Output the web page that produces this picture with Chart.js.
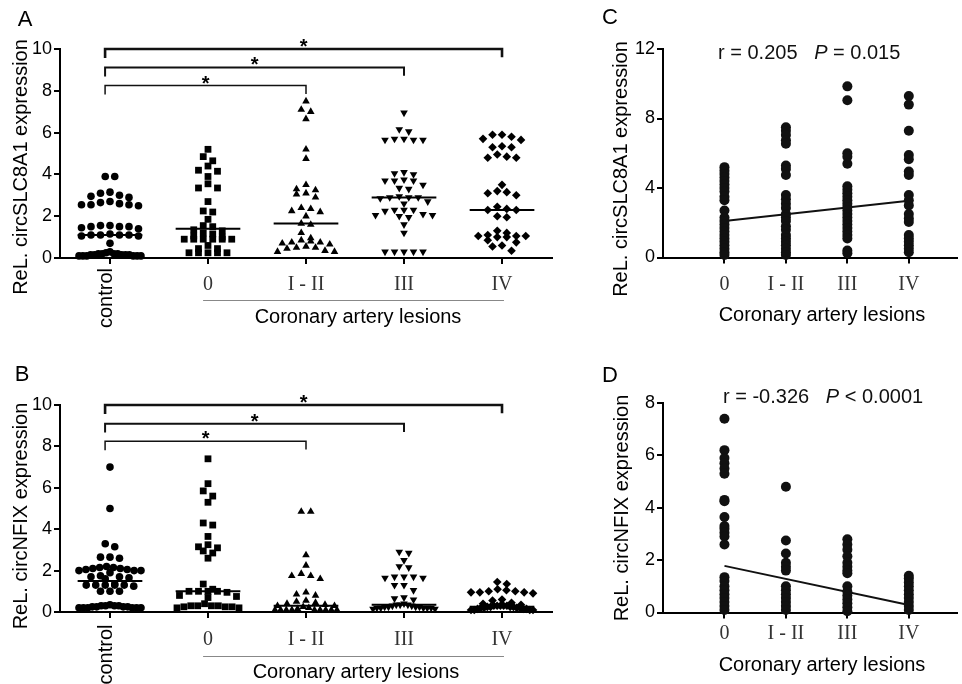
<!DOCTYPE html>
<html>
<head>
<meta charset="utf-8">
<script src="https://cdn.jsdelivr.net/npm/chart.js@4.4.1/dist/chart.umd.min.js"></script>
<style>
  body { margin: 0; background: #fff; }
  #wrap { position: relative; width: 962px; height: 684px; background: #fff; }
  canvas { position: absolute; }
</style>
</head>
<body>
<div id="wrap">
  <canvas id="chartA" width="560" height="340" style="left:0px;top:0px"></canvas>
  <canvas id="chartB" width="560" height="344" style="left:0px;top:340px"></canvas>
  <canvas id="chartC" width="402" height="340" style="left:560px;top:0px"></canvas>
  <canvas id="chartD" width="402" height="344" style="left:560px;top:340px"></canvas>
</div>
<script>
// categories
var groupNames = ['control', '0', 'I - II', 'III', 'IV']
var lesionNames = ['0', 'I - II', 'III', 'IV']

// panel A - circSLC8A1 by group
var aControl = [3.9, 3.9,
  3.15, 3.1, 3.0, 2.95, 2.9,
  2.7, 2.65, 2.6, 2.55, 2.55, 2.55, 2.5,
  1.55, 1.55, 1.5, 1.5, 1.5, 1.45, 1.4,
  1.15, 1.1, 1.1, 1.1, 1.1, 1.05, 1.05,
  0.7,
  0.3, 0.25, 0.2, 0.2, 0.2, 0.2, 0.15, 0.15, 0.15, 0.15, 0.15, 0.1, 0.1, 0.1, 0.1, 0.1, 0.1]
var aStage0 = [5.2, 4.85, 4.65, 4.4, 4.2, 4.15, 3.9, 3.55, 3.35, 3.35, 2.7, 2.25, 2.2, 1.85,
  1.55, 1.5, 1.35, 1.3, 1.2, 1.15, 1.05, 1.0, 0.9, 0.9, 0.9, 0.9, 0.9, 0.9,
  0.6, 0.45, 0.45, 0.25, 0.25, 0.25, 0.25, 0.25]
var aStage12 = [7.5, 7.1, 7.0, 6.65, 5.2, 4.75, 3.5, 3.3, 3.25, 3.1, 3.05, 2.9, 2.4, 2.35, 2.25, 2.2,
  2.0, 1.65, 1.6, 1.2, 0.95, 0.85, 0.8, 0.75, 0.75, 0.7, 0.65, 0.55, 0.5, 0.5, 0.45, 0.35, 0.3, 0.3]
var aStage3 = [6.95, 6.15, 6.05, 5.7, 5.7, 5.65, 5.65, 5.65, 4.1, 4.05, 4.0, 3.75, 3.7, 3.7, 3.7,
  3.5, 3.35, 3.3, 2.95, 2.9, 2.9, 2.9, 2.85, 2.7, 2.6, 2.3, 2.3, 2.3, 2.25, 2.1, 2.05, 2.05, 2.0,
  1.95, 1.6, 1.2, 0.3, 0.3, 0.3, 0.3, 0.3]
var aStage4 = [5.9, 5.9, 5.8, 5.7, 5.65, 5.35, 5.3, 5.3, 4.95, 4.85, 4.8, 4.8, 3.5, 3.2, 3.15, 3.1,
  3.0, 2.45, 2.35, 2.3, 2.3, 2.0, 1.95, 1.3, 1.2, 1.1, 1.05, 1.05, 1.05, 1.0, 1.0, 0.85, 0.75,
  0.6, 0.55, 0.35]
var aMedians = [1.1, 1.4, 1.65, 2.9, 2.3]

// panel B - circNFIX by group
var bControl = [7.0, 5.0, 3.3, 3.15, 2.65, 2.65, 2.6, 2.2, 2.15, 2.1, 2.1, 2.05, 2.05, 2.0, 2.0,
  2.0, 2.15, 1.9, 1.75, 1.7, 1.7, 1.65, 1.6, 1.35, 1.3, 1.3, 1.3, 1.3, 1.25, 1.3, 1.0, 1.0, 1.0,
  0.35, 0.3, 0.3, 0.3, 0.3, 0.25, 0.25, 0.25, 0.25, 0.2, 0.2, 0.2, 0.2, 0.2, 0.2]
var bStage0 = [7.4, 6.2, 5.85, 5.6, 5.3, 4.3, 4.2, 3.65, 3.25, 3.15, 3.1, 2.95, 2.85, 2.6, 1.35,
  1.1, 1.0, 1.0, 1.0, 1.0, 0.95, 0.8, 0.75, 0.7, 0.4, 0.3, 0.3, 0.3, 0.3, 0.25, 0.25, 0.25, 0.2, 0.2]
var bStage12 = [4.85, 4.85, 2.75, 2.25, 1.85, 1.75, 1.75, 1.6, 0.95, 0.85, 0.8, 0.55, 0.5, 0.45,
  0.4, 0.35, 0.3, 0.3, 0.25, 0.2, 0.15, 0.1, 0.1, 0.1, 0.1, 0.1, 0.1, 0.1, 0.1, 0.1]
var bStage3 = [2.9, 2.85, 2.5, 2.2, 2.15, 1.7, 1.7, 1.65, 1.65, 1.7, 1.3, 1.3, 1.05, 0.7, 0.65,
  0.6, 0.4, 0.35, 0.35, 0.35, 0.3, 0.3, 0.25, 0.25, 0.25, 0.25, 0.2, 0.2, 0.2, 0.2, 0.2, 0.15, 0.15]
var bStage4 = [1.45, 1.35, 1.1, 1.05, 1.0, 1.0, 0.95, 0.95, 0.95, 0.9, 0.6, 0.55, 0.45, 0.4, 0.35,
  0.3, 0.3, 0.3, 0.3, 0.3, 0.25, 0.25, 0.25, 0.25, 0.2, 0.2, 0.2, 0.2, 0.15, 0.15, 0.15, 0.1, 0.1,
  0.1, 0.1]
var bMedians = [1.5, 1.0, 0.3, 0.35, 0.25]

// significance brackets: control vs group index, at these heights
var sigTo = [2, 3, 4]
var sigLevelsA = [8.25, 9.12, 10]
var sigLevelsB = [8.25, 9.1, 10]

// panel C - circSLC8A1 vs lesion stage
var cStage0 = [5.2, 5.0, 4.8, 4.6, 4.4, 4.2, 4.0, 3.8, 3.5, 3.3, 2.7, 2.3, 2.1, 1.9, 1.7, 1.5, 1.3,
  1.1, 0.9, 0.7, 0.5, 0.3, 0.15]
var cStage12 = [7.5, 7.3, 7.05, 6.75, 6.55, 5.3, 5.1, 4.75, 3.6, 3.35, 3.1, 2.85, 2.5, 2.3, 2.1,
  1.8, 1.6, 1.3, 1.1, 0.9, 0.7, 0.5, 0.3, 0.15]
var cStage3 = [9.85, 9.05, 6.0, 5.8, 5.4, 4.1, 3.9, 3.7, 3.5, 3.3, 3.1, 2.9, 2.7, 2.5, 2.3, 2.1,
  1.9, 1.7, 1.5, 1.3, 1.1, 0.4, 0.25]
var cStage4 = [9.3, 8.8, 7.3, 5.9, 5.65, 4.95, 4.75, 3.6, 3.3, 3.0, 2.5, 2.25, 2.05, 1.3, 1.1, 0.9,
  0.7, 0.5, 0.3]
var regC = [2.1, 3.27]

// panel D - circNFIX vs lesion stage
var dStage0 = [7.4, 6.2, 5.9, 5.7, 5.5, 5.3, 4.3, 4.25, 3.65, 3.3, 3.2, 3.05, 2.9, 2.6, 1.35, 1.2,
  1.0, 0.85, 0.7, 0.55, 0.4, 0.25, 0.1]
var dStage12 = [4.8, 2.75, 2.25, 1.9, 1.75, 1.6, 1.0, 0.85, 0.7, 0.55, 0.4, 0.25, 0.1]
var dStage3 = [2.8, 2.6, 2.4, 2.15, 1.9, 1.75, 1.6, 1.5, 1.0, 0.8, 0.65, 0.5, 0.35, 0.2, 0.05]
var dStage4 = [1.4, 1.3, 1.15, 1.0, 0.85, 0.7, 0.55, 0.4, 0.25, 0.1]
var regD = [1.78, 0.29]

var yTicksA = [0, 2, 4, 6, 8, 10]
var yTicksC = [0, 4, 8, 12]
var yTicksD = [0, 2, 4, 6, 8]

var SANS = '"Liberation Sans", Arial, sans-serif'
var SERIF = '"Liberation Serif", "Times New Roman", serif'
Chart.defaults.font.family = SANS
Chart.defaults.color = '#000'

var shapes = ['circle', 'rect', 'triangle', 'triangle', 'rectRot']
var rotations = [0, 0, 0, 180, 0]
var radii = [3.8, 4.8, 4.4, 4.4, 4.3]

// spread points of similar value into centred rows (prism style)
function swarm(values, pos, pxX, pxY) {
  var v = values.slice().sort(function (a, b) { return b - a })
  var out = []
  var i = 0
  while (i < v.length) {
    var j = i + 1
    while (j < v.length && (v[i] - v[j]) * pxY < 6) j++
    var row = v.slice(i, j)
    var n = row.length
    var gap = n > 1 ? Math.min(9.5, 62 / (n - 1)) : 0
    var slots = []
    for (var k = 0; k < n; k++) slots.push(k - (n - 1) / 2)
    slots.sort(function (a, b) { return Math.abs(a) - Math.abs(b) || a - b })
    row.forEach(function (y, k) {
      out.push({ x: pos + slots[k] * gap / pxX, y: y })
    })
    i = j
  }
  return out
}

var decor = {
  id: 'decor',
  afterDraw: function (chart) {
    var o = chart.options.plugins.decor
    var ctx = chart.ctx
    var xs = chart.scales.x
    var ys = chart.scales.y
    var bottom = chart.chartArea.bottom
    ctx.save()
    ctx.fillStyle = '#000'
    ctx.textAlign = 'center'
    ctx.textBaseline = 'middle'

    ctx.font = '22px ' + SANS
    ctx.fillText(o.letter, o.letterAt[0], o.letterAt[1])

    ctx.font = '20px ' + SANS
    ctx.save()
    ctx.translate(o.yTitleAt[0], o.yTitleAt[1])
    ctx.rotate(-Math.PI / 2)
    ctx.fillText(o.yTitle, 0, 0)
    ctx.restore()
    ctx.fillText('Coronary artery lesions', o.xTitleAt[0], o.xTitleAt[1])

    o.cats.forEach(function (c, i) {
      var px = xs.getPixelForValue(i)
      if (c === 'control') {
        ctx.save()
        ctx.font = '20px ' + SANS
        ctx.fillStyle = '#000'
        ctx.translate(px - 3, bottom + o.controlDy)
        ctx.rotate(-Math.PI / 2)
        ctx.fillText(c, 0, 0)
        ctx.restore()
      } else {
        ctx.font = '20px ' + SERIF
        ctx.fillStyle = '#333'
        ctx.fillText(c, px, bottom + o.catDy)
      }
    })

    if (o.underlineDy) {
      ctx.strokeStyle = '#888'
      ctx.lineWidth = 1
      ctx.beginPath()
      ctx.moveTo(xs.getPixelForValue(0.95), bottom + o.underlineDy)
      ctx.lineTo(xs.getPixelForValue(4.02), bottom + o.underlineDy)
      ctx.stroke()
    }

    if (o.sigLevels) {
      ctx.fillStyle = '#000'
      ctx.font = 'bold 20px ' + SANS
      ctx.textBaseline = 'alphabetic'
      o.sigLevels.forEach(function (lvl, k) {
        var mid = (xs.getPixelForValue(-0.05) + xs.getPixelForValue(sigTo[k])) / 2
        ctx.fillText('*', mid, ys.getPixelForValue(lvl) + 4)
      })
    }

    if (o.corr) {
      ctx.fillStyle = '#111'
      ctx.textAlign = 'left'
      ctx.textBaseline = 'middle'
      var x = o.corr.at[0]
      var parts = [[o.corr.r + '   ', ''], ['P', 'italic '], [o.corr.p, '']]
      parts.forEach(function (p) {
        ctx.font = p[1] + '20px ' + SANS
        ctx.fillText(p[0], x, o.corr.at[1])
        x += ctx.measureText(p[0]).width
      })
    }
    ctx.restore()
  }
}

function axisY(max, ticks, width) {
  return {
    min: 0, max: max,
    afterBuildTicks: function (s) { s.ticks = ticks.map(function (v) { return { value: v } }) },
    afterFit: function (s) { s.width = width },
    ticks: { font: { size: 18 }, color: '#000', padding: 2 },
    grid: { drawOnChartArea: false, drawTicks: true, tickLength: 6, color: '#000', lineWidth: 2 },
    border: { color: '#000', width: 2 }
  }
}

function axisX(min, max, count) {
  return {
    type: 'linear', min: min, max: max,
    afterBuildTicks: function (s) {
      var t = []
      for (var i = 0; i < count; i++) t.push({ value: i })
      s.ticks = t
    },
    afterFit: function (s) { s.height = 30 },
    ticks: { display: false },
    grid: { drawOnChartArea: false, drawTicks: true, tickLength: 6, color: '#000', lineWidth: 2 },
    border: { color: '#000', width: 2 }
  }
}

function makeDotChart(id, groups, medians, sigLevels, pad, decorOpts) {
  var canvas = document.getElementById(id)
  var xmin = -0.51, xmax = 4.51
  var pxX = (canvas.width - pad.left - 40 - pad.right) / (xmax - xmin)
  var pxY = (canvas.height - pad.top - pad.bottom - 30) / 10
  var datasets = []
  groups.forEach(function (vals, i) {
    datasets.push({
      type: 'scatter',
      data: swarm(vals, i, pxX, pxY),
      pointStyle: shapes[i], pointRotation: rotations[i], pointRadius: radii[i],
      backgroundColor: '#000', borderWidth: 0, clip: false
    })
  })
  medians.forEach(function (m, i) {
    datasets.push({
      type: 'line', showLine: true,
      data: [{ x: i - 0.33, y: m }, { x: i + 0.33, y: m }],
      borderColor: '#000', borderWidth: 2, pointRadius: 0, clip: false
    })
  })
  var widths = [1.5, 2, 2.6]
  sigLevels.forEach(function (lvl, k) {
    datasets.push({
      type: 'line', showLine: true,
      data: [{ x: -0.05, y: lvl - 0.43 }, { x: -0.05, y: lvl }, { x: sigTo[k], y: lvl }, { x: sigTo[k], y: lvl - 0.4 }],
      borderColor: '#111', borderWidth: widths[k], pointRadius: 0, clip: false,
      borderJoinStyle: 'miter', tension: 0
    })
  })
  decorOpts.sigLevels = sigLevels
  return new Chart(canvas, {
    type: 'scatter',
    data: { datasets: datasets },
    options: {
      responsive: false, animation: false, events: [], devicePixelRatio: 1,
      layout: { padding: pad },
      scales: { x: axisX(xmin, xmax, 5), y: axisY(10, yTicksA, 40) },
      plugins: { legend: { display: false }, tooltip: { enabled: false }, decor: decorOpts }
    },
    plugins: [decor]
  })
}

function makeCorrChart(id, groups, reg, ymax, yTicks, pad, decorOpts) {
  var datasets = groups.map(function (vals, i) {
    return {
      type: 'scatter',
      data: vals.map(function (v) { return { x: i, y: v } }),
      pointStyle: 'circle', pointRadius: 5,
      backgroundColor: '#111', borderWidth: 0, clip: false
    }
  })
  datasets.push({
    type: 'line', showLine: true,
    data: [{ x: 0, y: reg[0] }, { x: 3, y: reg[1] }],
    borderColor: '#111', borderWidth: 2, pointRadius: 0, clip: false
  })
  return new Chart(document.getElementById(id), {
    type: 'scatter',
    data: { datasets: datasets },
    options: {
      responsive: false, animation: false, events: [], devicePixelRatio: 1,
      layout: { padding: pad },
      scales: { x: axisX(-1, 3.784, 4), y: axisY(ymax, yTicks, 40) },
      plugins: { legend: { display: false }, tooltip: { enabled: false }, decor: decorOpts }
    },
    plugins: [decor]
  })
}

makeDotChart('chartA', [aControl, aStage0, aStage12, aStage3, aStage4], aMedians, sigLevelsA,
  { left: 20, top: 49, right: 8, bottom: 52 },
  { letter: 'A', letterAt: [25, 20], yTitle: 'ReL. circSLC8A1 expression', yTitleAt: [21, 167],
    xTitleAt: [358, 317], cats: groupNames, catDy: 27, controlDy: 40, underlineDy: 42.5 })

makeDotChart('chartB', [bControl, bStage0, bStage12, bStage3, bStage4], bMedians, sigLevelsB,
  { left: 20, top: 65, right: 8, bottom: 42 },
  { letter: 'B', letterAt: [22, 35], yTitle: 'ReL. circNFIX expression', yTitleAt: [21, 176],
    xTitleAt: [356, 332], cats: groupNames, catDy: 28, controlDy: 42.5, underlineDy: 44.5 })

makeCorrChart('chartC', [cStage0, cStage12, cStage3, cStage4], regC, 12, yTicksC,
  { left: 63, top: 49, right: 0, bottom: 52.5 },
  { letter: 'C', letterAt: [50, 18], yTitle: 'ReL. circSLC8A1 expression', yTitleAt: [61, 169],
    xTitleAt: [262, 315], cats: lesionNames, catDy: 27.5,
    corr: { r: 'r = 0.205', p: ' = 0.015', at: [158, 53] } })

makeCorrChart('chartD', [dStage0, dStage12, dStage3, dStage4], regD, 8, yTicksD,
  { left: 63, top: 63, right: 0, bottom: 41.5 },
  { letter: 'D', letterAt: [50, 36], yTitle: 'ReL. circNFIX expression', yTitleAt: [62, 168],
    xTitleAt: [262, 325], cats: lesionNames, catDy: 21,
    corr: { r: 'r = -0.326', p: ' < 0.0001', at: [163, 57] } })
</script>
</body>
</html>
